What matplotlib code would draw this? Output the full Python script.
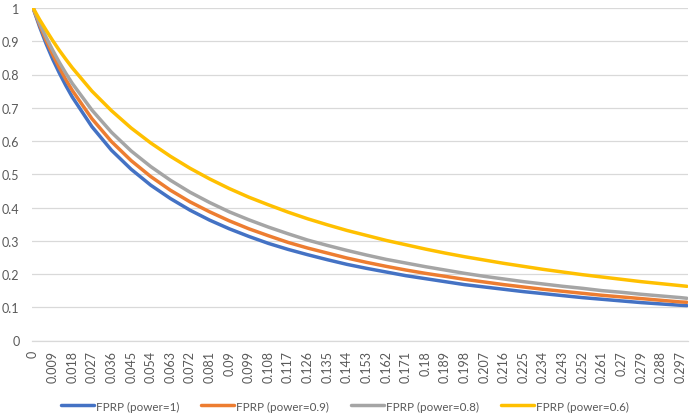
import matplotlib
matplotlib.use("Agg")
import matplotlib.pyplot as plt

# prior probability (x) at which values were read
prior = [0, 0.003, 0.006, 0.009, 0.012, 0.015, 0.018, 0.027, 0.036, 0.045, 0.054,
         0.063, 0.072, 0.081, 0.09, 0.099, 0.108, 0.117, 0.126, 0.135, 0.144,
         0.153, 0.162, 0.171, 0.18, 0.189, 0.198, 0.207, 0.216, 0.225, 0.234,
         0.243, 0.252, 0.261, 0.27, 0.279, 0.288, 0.297, 0.3]

fprp_p1 = [1.0, 0.943, 0.892, 0.846, 0.805, 0.767, 0.732, 0.643, 0.572, 0.515, 0.467,
           0.427, 0.392, 0.362, 0.336, 0.313, 0.292, 0.274, 0.258, 0.243, 0.229,
           0.217, 0.206, 0.195, 0.186, 0.177, 0.168, 0.161, 0.154, 0.147, 0.141,
           0.135, 0.129, 0.124, 0.119, 0.114, 0.110, 0.106, 0.105]

fprp_p09 = [1.0, 0.949, 0.902, 0.860, 0.821, 0.785, 0.752, 0.667, 0.598, 0.541, 0.493,
            0.452, 0.417, 0.387, 0.360, 0.336, 0.315, 0.295, 0.278, 0.263, 0.248,
            0.235, 0.223, 0.212, 0.202, 0.193, 0.184, 0.176, 0.168, 0.161, 0.154,
            0.148, 0.142, 0.136, 0.131, 0.126, 0.121, 0.116, 0.115]

fprp_p08 = [1.0, 0.954, 0.912, 0.873, 0.837, 0.804, 0.773, 0.693, 0.626, 0.570, 0.523,
            0.482, 0.446, 0.415, 0.387, 0.363, 0.341, 0.321, 0.302, 0.286, 0.271,
            0.257, 0.244, 0.233, 0.222, 0.212, 0.202, 0.193, 0.185, 0.177, 0.170,
            0.163, 0.157, 0.150, 0.145, 0.139, 0.134, 0.129, 0.127]

fprp_p06 = [1.0, 0.965, 0.933, 0.902, 0.873, 0.846, 0.820, 0.750, 0.691, 0.639, 0.594,
            0.554, 0.518, 0.486, 0.457, 0.431, 0.408, 0.386, 0.366, 0.348, 0.331,
            0.316, 0.301, 0.288, 0.275, 0.263, 0.252, 0.242, 0.232, 0.223, 0.214,
            0.206, 0.198, 0.191, 0.184, 0.177, 0.171, 0.165, 0.163]

series_names = ["FPRP (power=1)", "FPRP (power=0.9)", "FPRP (power=0.8)", "FPRP (power=0.6)"]

x_tick_labels = ["0", "0.009", "0.018", "0.027", "0.036", "0.045", "0.054", "0.063",
                 "0.072", "0.081", "0.09", "0.099", "0.108", "0.117", "0.126", "0.135",
                 "0.144", "0.153", "0.162", "0.171", "0.18", "0.189", "0.198", "0.207",
                 "0.216", "0.225", "0.234", "0.243", "0.252", "0.261", "0.27", "0.279",
                 "0.288", "0.297"]
y_tick_labels = ["0", "0.1", "0.2", "0.3", "0.4", "0.5", "0.6", "0.7", "0.8", "0.9", "1"]

colors = ["#4472C4", "#ED7D31", "#A5A5A5", "#FFC000"]
text_color = "#595959"
grid_color = "#D9D9D9"

plt.rcParams["font.family"] = ["Lato", "DejaVu Sans"]
fs_tick = 9
fs_leg = 8.4
em_leg = fs_leg * 100 / 72

fig = plt.figure(figsize=(6.9, 4.14), dpi=100)
ax = fig.add_axes([32 / 690, 1 - 341.5 / 414, 656 / 690, 332.5 / 414])

for vals, name, c in zip([fprp_p1, fprp_p09, fprp_p08, fprp_p06], series_names, colors):
    ax.plot(prior, vals, color=c, lw=2.5, label=name, solid_capstyle="round")

ax.set_xlim(-0.0005, 0.3005)
ax.set_ylim(0, 1)
ax.set_xticks([float(t) for t in x_tick_labels])
ax.set_xticklabels(x_tick_labels, rotation=90, fontsize=fs_tick, color=text_color)
ax.set_yticks([float(t) for t in y_tick_labels])
ax.set_yticklabels(y_tick_labels, fontsize=fs_tick, color=text_color)
ax.tick_params(axis="x", length=0, pad=7)
ax.tick_params(axis="y", length=0, pad=9)

ax.grid(axis="y", color=grid_color, lw=0.9)
ax.set_axisbelow(True)
for s in ["top", "right", "left"]:
    ax.spines[s].set_visible(False)
ax.spines["bottom"].set_color(grid_color)
ax.spines["bottom"].set_linewidth(0.9)

fig.legend(loc="center", bbox_to_anchor=(0.5, 1 - 407 / 414), ncol=4, frameon=False,
           fontsize=fs_leg, labelcolor=text_color, handlelength=33 / em_leg,
           handletextpad=2 / em_leg, columnspacing=22 / em_leg, borderpad=0)

fig.savefig("out.png", dpi=100)
